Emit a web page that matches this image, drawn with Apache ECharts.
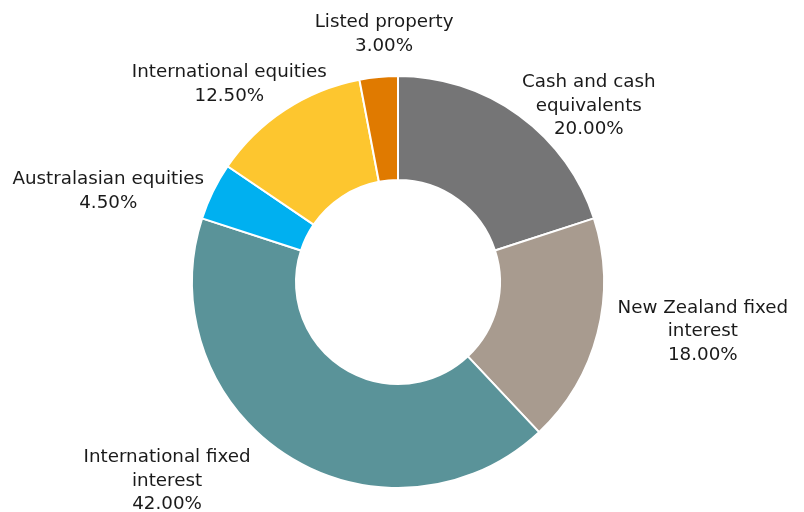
<!DOCTYPE html>
<html>
<head>
<meta charset="utf-8">
<script src="https://cdn.jsdelivr.net/npm/echarts@6/dist/echarts.min.js"></script>
<style>html,body{margin:0;padding:0;background:#fff;}#c{width:804px;height:512px;}</style>
</head>
<body>
<div id="c"></div>
<script>
// Data
const categories = ['Cash and cash\nequivalents', 'New Zealand fixed\ninterest', 'International fixed\ninterest', 'Australasian equities', 'International equities', 'Listed property'];
const values = [20.00, 18.00, 42.00, 4.50, 12.50, 3.00];
const colors = ['#757576', '#a89b8f', '#5a9399', '#00b0f0', '#fdc62f', '#e07a00'];

// Layout
const CX = 398, CY = 282, R_OUT = 206, R_IN = 102;
const labelNudge = [[-11, 2], [6, -5], [-23, 13], [5, 4], [-2, 14], [12, -3]];
const total = values.reduce((a, b) => a + b, 0);
function midAngle(i) {
  let cum = 0;
  for (let k = 0; k < i; k++) cum += values[k];
  return (cum + values[i] / 2) / total * Math.PI * 2;
}

const chart = echarts.init(document.getElementById('c'));
chart.setOption({
  animation: false,
  series: [{
    type: 'pie',
    center: [CX, CY],
    radius: [R_IN, R_OUT],
    startAngle: 90,
    clockwise: true,
    avoidLabelOverlap: false,
    itemStyle: { borderColor: '#fff', borderWidth: 2 },
    label: {
      show: true,
      position: 'outside',
      fontFamily: 'DejaVu Sans',
      fontSize: 18.3,
      lineHeight: 23.5,
      color: '#1a1a1a',
      align: 'center',
      formatter: p => p.name + '\n' + values[p.dataIndex].toFixed(2) + '%'
    },
    labelLine: { show: false },
    emphasis: { disabled: true },
    labelLayout: function (params) {
      const i = params.dataIndex;
      const th = midAngle(i);
      const ux = Math.sin(th), uy = -Math.cos(th);
      const ax = CX + R_OUT * ux, ay = CY + R_OUT * uy;
      const hw = params.labelRect.width / 2, hh = params.labelRect.height / 2;
      let x, y;
      if (-uy > 0.83) {
        x = ax + ux * hw;
        y = ay - hh - 16;
      } else {
        x = ax + Math.sign(ux) * (hw + 14);
        y = ay + uy * hh * 0.4;
      }
      return { x: x + labelNudge[i][0], y: y + labelNudge[i][1], align: 'center', verticalAlign: 'middle' };
    },
    data: categories.map((c, i) => ({ name: c, value: values[i], itemStyle: { color: colors[i] } }))
  }]
});
</script>
</body>
</html>
